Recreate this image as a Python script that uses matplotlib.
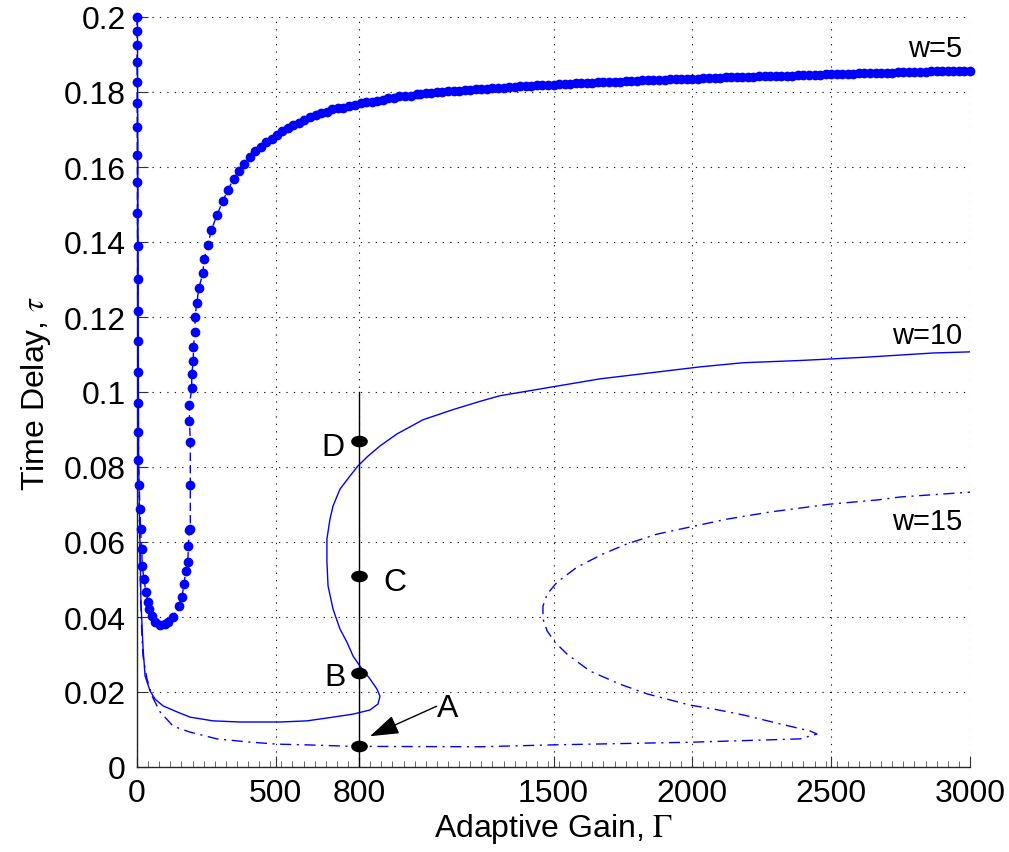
import matplotlib
matplotlib.use("Agg")
import matplotlib.pyplot as plt
from matplotlib.path import Path
from matplotlib.ticker import FixedLocator, MultipleLocator

plt.rcParams['font.family'] = ['Liberation Sans', 'DejaVu Sans']
plt.rcParams['mathtext.fontset'] = 'stix'

# ---- w = 5 branch (dotted curve) ----
gamma_w5 = [0, 0, 0, 0, 0.5, 0.5, 1, 1, 1.5, 1.5, 2, 2, 2.5, 3, 3, 3.5, 4,
            5, 8, 11, 13, 17, 19, 25, 32, 40, 44, 53, 65, 83, 101, 112, 130,
            150, 162, 169, 176, 183, 185, 188, 192, 192, 192, 189, 189, 197,
            197, 203, 203, 209, 209, 215, 223, 237, 242, 255, 268, 288, 309,
            327, 348, 367, 386, 407, 425, 447, 465, 485, 503, 523, 543, 563,
            583, 603, 623, 645, 663, 683, 703, 725, 743, 765, 785, 806, 825,
            845, 865, 887, 905, 926, 945, 965, 986, 1007,
            1020, 1040, 1060, 1080, 1100, 1120, 1140, 1160, 1180, 1200,
            1220, 1240, 1260, 1280, 1300, 1320, 1340, 1360, 1380, 1400,
            1420, 1440, 1460, 1480, 1500, 1520, 1540, 1560, 1580, 1600,
            1620, 1640, 1660, 1680, 1700, 1720, 1740, 1760, 1780, 1800,
            1820, 1840, 1860, 1880, 1900, 1920, 1940, 1960, 1980, 2000,
            2020, 2040, 2060, 2080, 2100, 2120, 2140, 2160, 2180, 2200,
            2220, 2240, 2260, 2280, 2300, 2320, 2340, 2360, 2380, 2400,
            2420, 2440, 2460, 2480, 2500, 2520, 2540, 2560, 2580, 2600,
            2620, 2640, 2660, 2680, 2700, 2720, 2740, 2760, 2780, 2800,
            2820, 2840, 2860, 2880, 2900, 2920, 2940, 2960, 2980, 3000]
tau_w5 = [0.2, 0.1963, 0.1925, 0.188, 0.1827, 0.1771, 0.1707, 0.1632, 0.156,
          0.1477, 0.1389, 0.1301, 0.1216, 0.1136, 0.1053, 0.0971, 0.0893,
          0.0819, 0.0752, 0.0688, 0.0635, 0.0581, 0.0536, 0.0501, 0.0467,
          0.044, 0.0421, 0.0403, 0.0387, 0.0379, 0.0381, 0.0387, 0.04,
          0.0429, 0.0453, 0.0488, 0.0523, 0.0547, 0.0589, 0.0632, 0.0635,
          0.0752, 0.0867, 0.0923, 0.0965, 0.1011, 0.1048, 0.1083, 0.112,
          0.116, 0.12, 0.1237, 0.1277, 0.1317, 0.1355, 0.1392, 0.1432,
          0.1472, 0.1509, 0.1539, 0.1568, 0.1589, 0.1608, 0.1627, 0.1643,
          0.1653, 0.1667, 0.1675, 0.1685, 0.1696, 0.1704, 0.1712, 0.1717,
          0.1725, 0.1733, 0.1739, 0.1744, 0.1747, 0.1755, 0.1757, 0.1757,
          0.1763, 0.1765, 0.1771, 0.1773, 0.1773, 0.1776, 0.1779, 0.1784,
          0.1784, 0.1789, 0.1789, 0.1789, 0.1795,
          0.1796, 0.1797, 0.1798, 0.1799, 0.1801, 0.1802, 0.1803, 0.1804, 0.1805, 0.1806,
          0.1807, 0.1808, 0.1809, 0.1810, 0.1811, 0.1812, 0.1813, 0.1814, 0.1815, 0.1816,
          0.1817, 0.1818, 0.1818, 0.1819, 0.1820, 0.1821, 0.1821, 0.1822, 0.1823, 0.1824,
          0.1824, 0.1825, 0.1826, 0.1826, 0.1827, 0.1828, 0.1828, 0.1829, 0.1830, 0.1830,
          0.1831, 0.1831, 0.1832, 0.1832, 0.1833, 0.1834, 0.1834, 0.1835, 0.1835, 0.1836,
          0.1836, 0.1837, 0.1837, 0.1838, 0.1838, 0.1839, 0.1839, 0.1840, 0.1840, 0.1841,
          0.1841, 0.1842, 0.1842, 0.1842, 0.1843, 0.1843, 0.1844, 0.1844, 0.1845, 0.1845,
          0.1846, 0.1846, 0.1846, 0.1847, 0.1847, 0.1848, 0.1848, 0.1849, 0.1849, 0.1850,
          0.1850, 0.1850, 0.1851, 0.1851, 0.1852, 0.1852, 0.1853, 0.1853, 0.1853, 0.1854,
          0.1854, 0.1854, 0.1855, 0.1855, 0.1855, 0.1856, 0.1856, 0.1856, 0.1857, 0.1857]

# ---- w = 10 branch (solid curve) ----
gamma_w10 = [1, 4, 6, 14, 19, 22, 29, 47, 65, 94, 144, 191, 274, 371, 515,
             612, 706, 778, 839, 868, 875, 864, 839, 803, 778, 756, 731, 706,
             688, 684, 684, 695, 706, 731, 767, 796, 832, 875, 936, 1030,
             1138, 1235, 1307, 1667, 2028, 2182, 2388, 2496, 2629, 2867, 3000]
tau_w10 = [0.2, 0.125, 0.08, 0.045, 0.036, 0.0315, 0.0243, 0.0203, 0.0181,
           0.0163, 0.0147, 0.0133, 0.0123, 0.012, 0.012, 0.0123, 0.0133,
           0.0141, 0.0152, 0.0168, 0.0189, 0.0208, 0.0235, 0.0269, 0.0296,
           0.0333, 0.0368, 0.0421, 0.0483, 0.0547, 0.0608, 0.0661, 0.0696,
           0.0741, 0.0776, 0.0803, 0.0829, 0.0856, 0.0888, 0.0926, 0.0953,
           0.0975, 0.0990, 0.1035, 0.1067, 0.1078, 0.1084, 0.1088, 0.1093,
           0.1104, 0.1107]

# ---- w = 15 branch (dash-dot curve) ----
gamma_w15 = [0.5, 3.5, 5.5, 13, 17, 21.6, 36, 54, 83, 130, 191, 288, 396,
             504, 612, 778, 1235, 1498, 1992, 2388, 2449, 2424, 2316, 2182,
             2074, 1992, 1837, 1739, 1631, 1549, 1505, 1477, 1462, 1462, 1477,
             1513, 1585, 1678, 1765, 1873, 1992, 2125, 2280, 2496, 2665, 2748,
             3000]
tau_w15 = [0.2, 0.125, 0.08, 0.045, 0.036, 0.0296, 0.0235, 0.0189, 0.0147,
           0.0109, 0.0093, 0.0075, 0.0067, 0.0061, 0.0059, 0.0055, 0.0054,
           0.0059, 0.0066, 0.0075, 0.0088, 0.0096, 0.0115, 0.0139, 0.0155,
           0.0165, 0.0195, 0.0221, 0.0256, 0.0301, 0.0333, 0.0363, 0.0395,
           0.0429, 0.0461, 0.0493, 0.0533, 0.0568, 0.0595, 0.0621, 0.064,
           0.0661, 0.068, 0.0701, 0.0712, 0.072, 0.0733]

# ---- operating points at Gamma = 800 ----
point_names = ['A', 'B', 'C', 'D']
point_gamma = [800, 800, 800, 800]
point_tau = [0.0055, 0.0251, 0.0509, 0.0869]

x_ticks = [0, 500, 800, 1500, 2000, 2500, 3000]
y_ticks = [0, 0.02, 0.04, 0.06, 0.08, 0.1, 0.12, 0.14, 0.16, 0.18, 0.2]
y_tick_labels = ['0', '0.02', '0.04', '0.06', '0.08', '0.1', '0.12', '0.14',
                 '0.16', '0.18', '0.2']

FS = 23
blue = (0, 0, 1)

fig = plt.figure(figsize=(10.09, 8.53), dpi=100)
ax = fig.add_axes([137 / 1009, 85 / 853, 833 / 1009, 750 / 853])

ax.plot(gamma_w5, tau_w5, color=blue, lw=1.0, ls=(0, (6, 3)),
        marker='o', ms=6, mec=blue, mfc=blue, zorder=3, clip_on=False)
ax.plot(gamma_w10, tau_w10, color=blue, lw=1.0, zorder=3)
ax.plot(gamma_w15, tau_w15, color=blue, lw=1.0, ls=(0, (8, 4, 1.5, 4)),
        zorder=3)

# vertical slice at Gamma = 800
ax.plot([800, 800], [0, 0.1], color='k', lw=1.0, zorder=4)

circ = Path.unit_circle()
ellipse_marker = Path(circ.vertices * [1.5, 1.0], circ.codes)
ax.plot(point_gamma, point_tau, ls='none', marker=ellipse_marker, ms=11,
        color='k', zorder=5)

label_pos = {'B': (713, 0.0240), 'C': (929, 0.0493), 'D': (706, 0.0853)}
for name in ['B', 'C', 'D']:
    ax.text(*label_pos[name], name, fontsize=FS, ha='center', va='center')
ax.text(1120, 0.0158, 'A', fontsize=FS, ha='center', va='center')
ax.annotate('', xy=(839, 0.0082), xytext=(1079, 0.0162),
            arrowprops=dict(arrowstyle='-|>,head_length=0.9,head_width=0.3',
                            color='k', lw=1.0, mutation_scale=20,
                            shrinkA=0, shrinkB=0))

ax.text(2972, 0.1917, 'w=5', fontsize=FS - 2, ha='right', va='center')
ax.text(2972, 0.1152, 'w=10', fontsize=FS - 2, ha='right', va='center')
ax.text(2972, 0.0656, 'w=15', fontsize=FS - 2, ha='right', va='center')

ax.set_xlim(0, 3000)
ax.set_ylim(0, 0.2)
ax.xaxis.set_major_locator(FixedLocator(x_ticks))
ax.set_xticklabels([str(v) for v in x_ticks])
ax.xaxis.set_minor_locator(MultipleLocator(40))
ax.yaxis.set_major_locator(FixedLocator(y_ticks))
ax.set_yticklabels(y_tick_labels)

ax.tick_params(axis='both', which='major', direction='in', length=8,
               width=0.8, color='0.2', labelsize=FS, pad=8)
ax.tick_params(axis='x', which='minor', direction='in', length=4,
               width=0.6, color='0.3')
ax.tick_params(axis='y', which='minor', left=False)
ax.tick_params(top=False, right=False)

for side in ['top', 'right']:
    ax.spines[side].set_visible(False)
for side in ['left', 'bottom']:
    ax.spines[side].set_color('0.15')
    ax.spines[side].set_linewidth(1.0)

ax.grid(True, which='major', color='0.1', lw=0.8, ls=(0, (1.2, 5.5)))
ax.set_axisbelow(True)

ax.set_xlabel(r'Adaptive Gain, $\Gamma$', fontsize=FS, labelpad=2)
ax.set_ylabel(r'Time Delay, $\tau$', fontsize=FS, labelpad=8)

fig.savefig('out.png', dpi=100)
